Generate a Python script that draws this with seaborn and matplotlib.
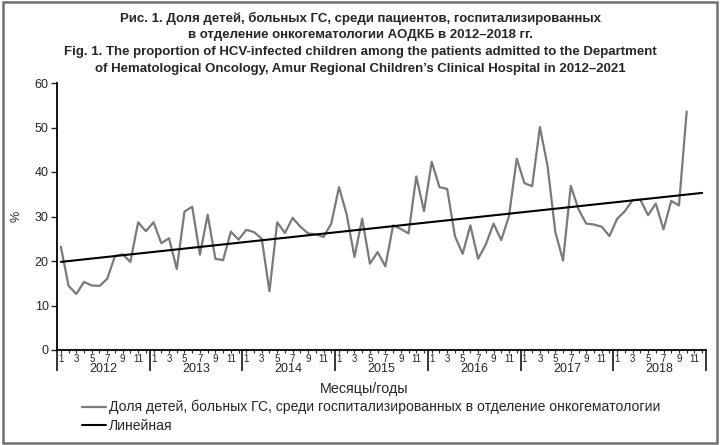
"""
Share of HCV-infected children in the haematological oncology department, 2012-2018
"""

import matplotlib.patches as mpatches
import matplotlib.pyplot as plt
import matplotlib.transforms as mtransforms
import numpy as np
import pandas as pd
import seaborn as sns

YEARS = [2012, 2013, 2014, 2015, 2016, 2017, 2018]
MONTH_LABELS = ['1', '', '3', '', '5', '', '7', '', '9', '', '11', '']

# Monthly share, %, Jan 2012 - Oct 2018
SHARE = [
    23.2, 14.4, 12.6, 15.3, 14.5, 14.4, 16.0, 21.1, 21.5, 19.8, 28.7, 26.7,
    28.7, 24.0, 25.1, 18.2, 31.1, 32.2, 21.4, 30.4, 20.5, 20.2, 26.6, 24.8,
    27.0, 26.5, 25.0, 13.2, 28.7, 26.3, 29.7, 27.7, 26.2, 26.0, 25.4, 28.4,
    36.6, 30.4, 20.9, 29.5, 19.4, 22.0, 18.8, 28.0, 27.2, 26.2, 39.0, 31.2,
    42.3, 36.6, 36.2, 25.6, 21.6, 28.0, 20.5, 23.7, 28.4, 24.7, 30.1, 43.0,
    37.5, 36.8, 50.1, 41.3, 26.5, 20.1, 36.9, 31.6, 28.4, 28.2, 27.7, 25.6,
    29.5, 31.2, 33.7, 33.8, 30.3, 32.9, 27.1, 33.5, 32.5, 53.6,
]

# Linear trend, value at first and last month of the axis
TREND_ENDS = [19.8, 35.3]

TITLE_LINES = [
    'Рис. 1. Доля детей, больных ГС, среди пациентов, госпитализированных',
    'в отделение онкогематологии АОДКБ в 2012–2018 гг.',
    'Fig. 1. The proportion of HCV-infected children among the patients admitted to the Department',
    'of Hematological Oncology, Amur Regional Children’s Clinical Hospital in 2012–2021',
]
SERIES_LABEL = 'Доля детей, больных ГС, среди госпитализированных в отделение онкогематологии'
TREND_LABEL = 'Линейная'

sns.set_style('ticks')
plt.rcParams['font.family'] = ['Liberation Sans', 'DejaVu Sans']

fig = plt.figure(figsize=(7.2, 4.45), dpi=100)
ax = fig.add_axes([57 / 720, 1 - 350 / 445, 649 / 720, 267 / 445])

n_months = 12 * len(YEARS)
share_df = pd.DataFrame({'month': np.arange(len(SHARE)), 'share': SHARE})
trend_df = pd.DataFrame({'month': [0, n_months - 1], 'share': TREND_ENDS})

sns.lineplot(data=share_df, x='month', y='share', color='#7a7a7a',
             linewidth=1.6, ax=ax, label=SERIES_LABEL, legend=False)
sns.lineplot(data=trend_df, x='month', y='share', color='black',
             linewidth=1.5, ax=ax, label=TREND_LABEL, legend=False)

ax.set_xlim(-0.5, n_months - 0.5)
ax.set_ylim(0, 60)
ax.set_yticks(np.arange(0, 61, 10))
ax.tick_params(axis='y', length=4, width=1, labelsize=9, pad=2)

# Month ticks (major) and year separators (minor)
ax.set_xticks(np.arange(n_months))
ax.set_xticklabels(MONTH_LABELS * len(YEARS))
ax.set_xticks(np.arange(0, n_months + 1, 12) - 0.5, minor=True)
ax.tick_params(axis='x', which='major', length=2.5, width=0.8,
               labelsize=7, pad=0.5)
ax.tick_params(axis='x', which='minor', length=15, width=1.3)

trans = mtransforms.blended_transform_factory(ax.transData, ax.transAxes)
for k, year in enumerate(YEARS):
    ax.text(12 * k + 5.5, -0.073, str(year), transform=trans,
            ha='center', va='center', fontsize=9)

ax.set_xlabel('')
ax.set_ylabel('')
sns.despine(ax=ax)
for side in ['left', 'bottom']:
    ax.spines[side].set_linewidth(1.3)
    ax.spines[side].set_color('black')

fig.text(16 / 720, 1 - 216 / 445, '%', rotation=90, ha='center',
         va='center', fontsize=9)
fig.text(364 / 720, 1 - 389 / 445, 'Месяцы/годы', ha='center',
         va='center', fontsize=10.3)

title_y = [18, 35, 52, 69]
for line, y in zip(TITLE_LINES, title_y):
    fig.text(0.5, 1 - y / 445, line, ha='center', va='center',
             fontsize=9.5, fontweight='bold')

handles, labels = ax.get_legend_handles_labels()
fig.legend(handles, labels, loc='upper left',
           bbox_to_anchor=(82 / 720, 1 - 400 / 445), frameon=False,
           fontsize=10.1, handlelength=1.7, handletextpad=0.2,
           labelspacing=0.3, borderaxespad=0, borderpad=0)

fig.add_artist(mpatches.Rectangle((0.004, 0.005), 0.992, 0.99,
                                  transform=fig.transFigure, fill=False,
                                  edgecolor='#6e6e6e', linewidth=1.8))

fig.savefig('out.png', dpi=100)
